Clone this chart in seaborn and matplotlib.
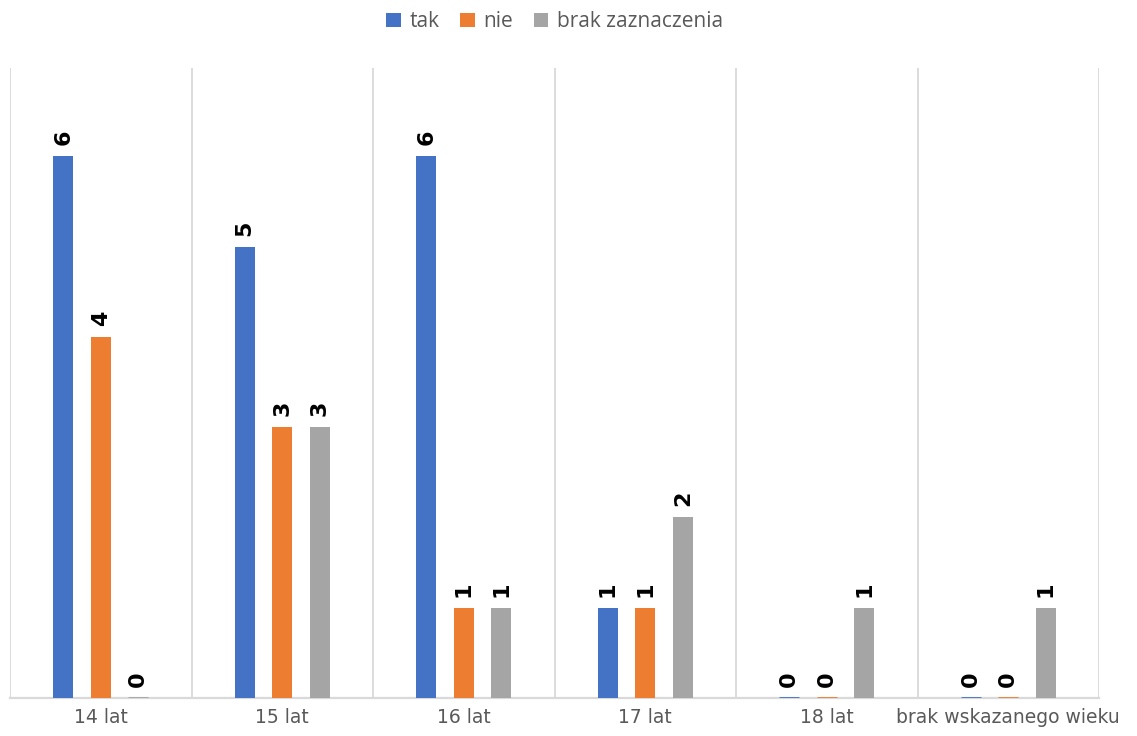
import matplotlib
matplotlib.use("Agg")
import matplotlib.pyplot as plt
import seaborn as sns
import pandas as pd

categories = ["14 lat", "15 lat", "16 lat", "17 lat", "18 lat", "brak wskazanego wieku"]
series_names = ["tak", "nie", "brak zaznaczenia"]
tak = [6, 5, 6, 1, 0, 0]
nie = [4, 3, 1, 1, 0, 0]
brak = [0, 3, 1, 2, 1, 1]
colors = ["#4472C4", "#ED7D31", "#A5A5A5"]

rows = []
for name, vals in zip(series_names, [tak, nie, brak]):
    for c, v in zip(categories, vals):
        rows.append({"kategoria": c, "seria": name, "wartosc": v})
df = pd.DataFrame(rows)

sns.set_style("white")
plt.rcParams["font.family"] = ["Open Sans", "DejaVu Sans"]

fig = plt.figure(figsize=(11.37, 7.36), dpi=100)
ax = fig.add_axes([10 / 1137, 38 / 736, 1089 / 1137, 630 / 736])

sns.barplot(data=df, x="kategoria", y="wartosc", hue="seria", order=categories,
            hue_order=series_names, palette=colors, width=0.62, gap=0.47,
            ax=ax, legend=True, saturation=1, linewidth=0, err_kws={"linewidth": 0})
for cont, col in zip(ax.containers, colors):
    for p in cont:
        p.set_edgecolor(col)
        p.set_linewidth(2.0 if p.get_height() == 0 else 0)
        p.set_zorder(3)
    ax.bar_label(cont, labels=[f"{int(v)}" for v in cont.datavalues], rotation=90,
                 padding=8, fontsize=16, fontweight="bold", color="black",
                 family="DejaVu Sans")

ax.set_ylim(0, 6.98)
ax.set_xlim(-0.5, len(categories) - 0.5)
for xb in [i - 0.5 for i in range(len(categories) + 1)]:
    ax.axvline(xb, color="#d9d9d9", lw=1.3, zorder=0)
for s in ["top", "left", "right"]:
    ax.spines[s].set_visible(False)
ax.spines["bottom"].set_color("#d9d9d9")
ax.spines["bottom"].set_linewidth(1.6)
ax.spines["bottom"].set_zorder(1)
ax.set_yticks([])
ax.set_xlabel("")
ax.set_ylabel("")
ax.tick_params(axis="x", length=0, pad=7, labelsize=13.5, labelcolor="#595959")
for t in ax.get_xticklabels():
    t.set_fontfamily("DejaVu Sans")

leg = ax.legend(loc="upper center", bbox_to_anchor=(0.5, 1.12), ncol=3, frameon=False,
                fontsize=15, handlelength=0.7, handleheight=0.7, columnspacing=1.0,
                handletextpad=0.4, labelcolor="#595959")
fig.savefig("out.png", dpi=100)
